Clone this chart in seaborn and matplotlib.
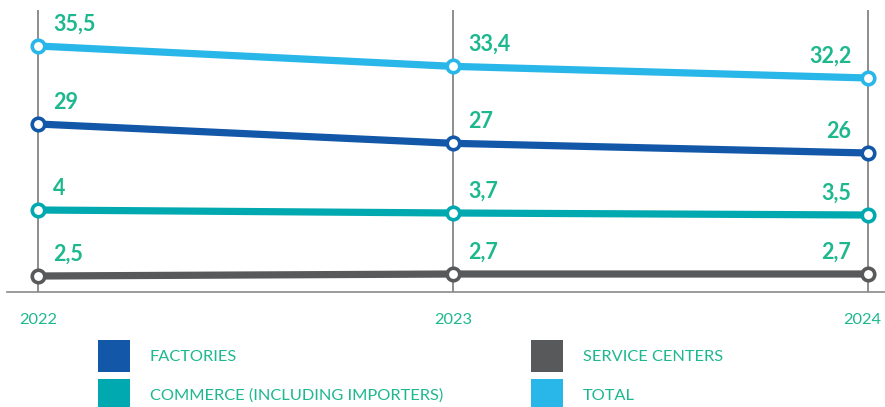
import numpy as np
import pandas as pd
import matplotlib
matplotlib.use("Agg")
import matplotlib.pyplot as plt
from matplotlib.patches import Patch
from matplotlib.transforms import ScaledTranslation
import seaborn as sns

# ---- data ----
years = [2022, 2023, 2024]
series_names = ["FACTORIES", "SERVICE CENTERS", "COMMERCE (INCLUDING IMPORTERS)", "TOTAL"]
factories = [29, 27, 26]
service_centers = [2.5, 2.7, 2.7]
commerce = [4, 3.7, 3.5]
total = [35.5, 33.4, 32.2]

# ---- styles ----
colors = {
    "FACTORIES": "#1257A8",
    "SERVICE CENTERS": "#58595B",
    "COMMERCE (INCLUDING IMPORTERS)": "#00A9B0",
    "TOTAL": "#29B6E8",
}
label_green = "#1DB88E"
grid_gray = "#7a7a7a"

sns.set_theme(style="white")
plt.rcParams["font.family"] = ["Lato", "DejaVu Sans"]

df = pd.DataFrame({
    "year": years * 4,
    "value": factories + service_centers + commerce + total,
    "series": sum([[s] * 3 for s in series_names], []),
})

fig = plt.figure(figsize=(8.85, 4.07), dpi=100)
W, H = 885, 407
ax = fig.add_axes([7 / W, (H - 292) / H, 1 - 7 / W, (292 - 10) / H])

# Non-uniform (infographic-style) vertical scale: piecewise linear
knot_v = np.array([0.0, 2.5, 2.7, 3.5, 4.0, 26.0, 29.0, 32.2, 35.5, 39.0])
knot_p = np.array([0.0, 16.0, 18.0, 77.0, 82.0, 139.0, 168.0, 214.0, 246.0, 282.0])


def fwd(v):
    return np.interp(v, knot_v, knot_p)


def inv(p):
    return np.interp(p, knot_p, knot_v)


ax.set_yscale("function", functions=(fwd, inv))

sns.lineplot(
    data=df, x="year", y="value", hue="series", palette=colors,
    marker="o", markersize=9, markerfacecolor="white", markeredgewidth=2.6,
    linewidth=5.2, ax=ax, legend=False, zorder=3,
)
for line in ax.lines:
    line.set_markeredgecolor(line.get_color())
    line.set_solid_capstyle("butt")

px_per_year = 415
ax.set_xlim(2022 - 31 / px_per_year, 2024 + 17 / px_per_year)
ax.set_ylim(0, 39)

# value labels
for vals in [factories, service_centers, commerce, total]:
    for i, (x, v) in enumerate(zip(years, vals)):
        txt = f"{v:g}".replace(".", ",")
        if i < 2:
            ax.annotate(txt, (x, v), xytext=(11, 11), textcoords="offset points",
                        ha="left", va="baseline", color=label_green,
                        fontsize=15.5, fontweight="bold")
        else:
            ax.annotate(txt, (x, v), xytext=(-12, 11), textcoords="offset points",
                        ha="right", va="baseline", color=label_green,
                        fontsize=15.5, fontweight="bold")

ax.set_xticks(years)
ax.set_xticklabels([str(y) for y in years])
ax.set_yticks([])
ax.tick_params(axis="x", length=0, pad=15, labelsize=11.8, labelcolor=label_green)
# nudge the last year label inward so it stays inside the canvas
last = ax.get_xticklabels()[-1]
last.set_transform(last.get_transform() + ScaledTranslation(-4 / 72, 0, fig.dpi_scale_trans))
ax.grid(axis="x", color=grid_gray, linewidth=1.2)
ax.grid(axis="y", visible=False)
for s in ["top", "right", "left"]:
    ax.spines[s].set_visible(False)
ax.spines["bottom"].set_color("#8a8a8a")
ax.spines["bottom"].set_linewidth(1.2)
ax.set_xlabel("")
ax.set_ylabel("")

handles = [Patch(facecolor=colors[n], edgecolor="none", label=n) for n in
           ["FACTORIES", "COMMERCE (INCLUDING IMPORTERS)", "SERVICE CENTERS", "TOTAL"]]
leg = fig.legend(handles=handles, ncol=2, loc="upper left",
                 bbox_to_anchor=(98 / W, 1 - 340 / H), frameon=False,
                 fontsize=11.8, handlelength=1.95, handleheight=2.62,
                 handletextpad=1.2, columnspacing=5.4, labelspacing=0.43,
                 borderpad=0, borderaxespad=0)
for t in leg.get_texts():
    t.set_color(label_green)

fig.savefig("out.png", dpi=100, facecolor="white")
